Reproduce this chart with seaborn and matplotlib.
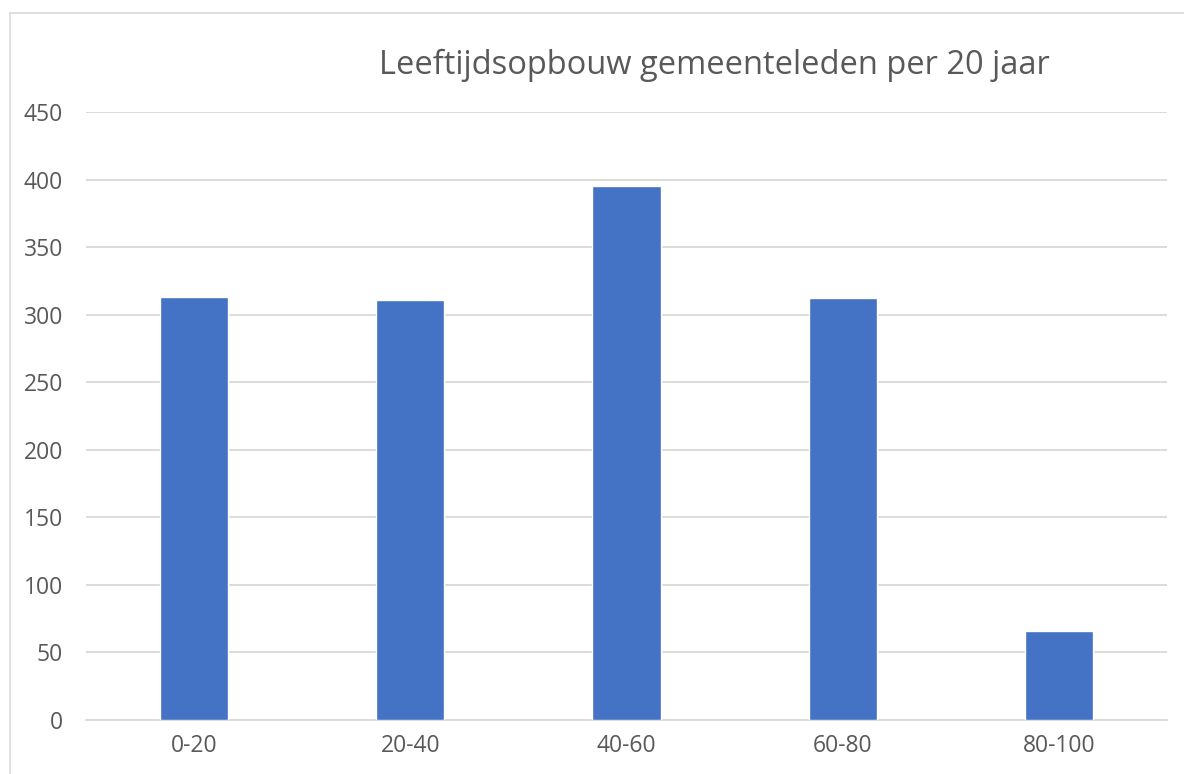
import matplotlib
matplotlib.use("Agg")
import matplotlib.pyplot as plt
from matplotlib.lines import Line2D
import seaborn as sns
import pandas as pd

categories = ["0-20", "20-40", "40-60", "60-80", "80-100"]
values = [313, 311, 395, 312, 66]
yticks = [0, 50, 100, 150, 200, 250, 300, 350, 400, 450]
title = "Leeftijdsopbouw gemeenteleden per 20 jaar"

sns.set_theme(style="white")
plt.rcParams['font.family'] = ['Open Sans', 'DejaVu Sans']

df = pd.DataFrame({"cat": categories, "val": values})

fig = plt.figure(figsize=(11.84, 7.74), dpi=100)
ax = fig.add_axes([86/1184, 54/774, (1167-86)/1184, (720-112)/774])

sns.barplot(data=df, x="cat", y="val", color="#4472C4", width=0.315,
            saturation=1, ax=ax, zorder=3)

ax.set_ylim(0, 450)
ax.set_xlim(-0.5, 4.5)
ax.set_yticks(yticks)
ax.set_yticklabels([str(t) for t in yticks])
ax.yaxis.grid(True, color="#d9d9d9", linewidth=1.3, zorder=0)
ax.set_axisbelow(True)
for s in ["top", "right", "left"]:
    ax.spines[s].set_visible(False)
ax.spines["bottom"].set_color("#d9d9d9")
ax.spines["bottom"].set_linewidth(1.3)
ax.tick_params(axis="both", length=0, labelsize=16.5, labelcolor="#595959")
ax.tick_params(axis="y", pad=16.5)
ax.tick_params(axis="x", pad=10)
ax.set_xlabel("")
ax.set_ylabel("")

fig.text(714/1184, 1 - 65/774, title, ha="center", va="center",
         fontsize=23.5, color="#595959")

# outer chart border (left and top visible)
fig.add_artist(Line2D([10/1184, 10/1184], [0, 1 - 13/774], transform=fig.transFigure,
                      color="#d9d9d9", linewidth=1.2))
fig.add_artist(Line2D([10/1184, 1], [1 - 13/774, 1 - 13/774], transform=fig.transFigure,
                      color="#d9d9d9", linewidth=1.2))

fig.savefig("out.png", dpi=100, facecolor="white")
